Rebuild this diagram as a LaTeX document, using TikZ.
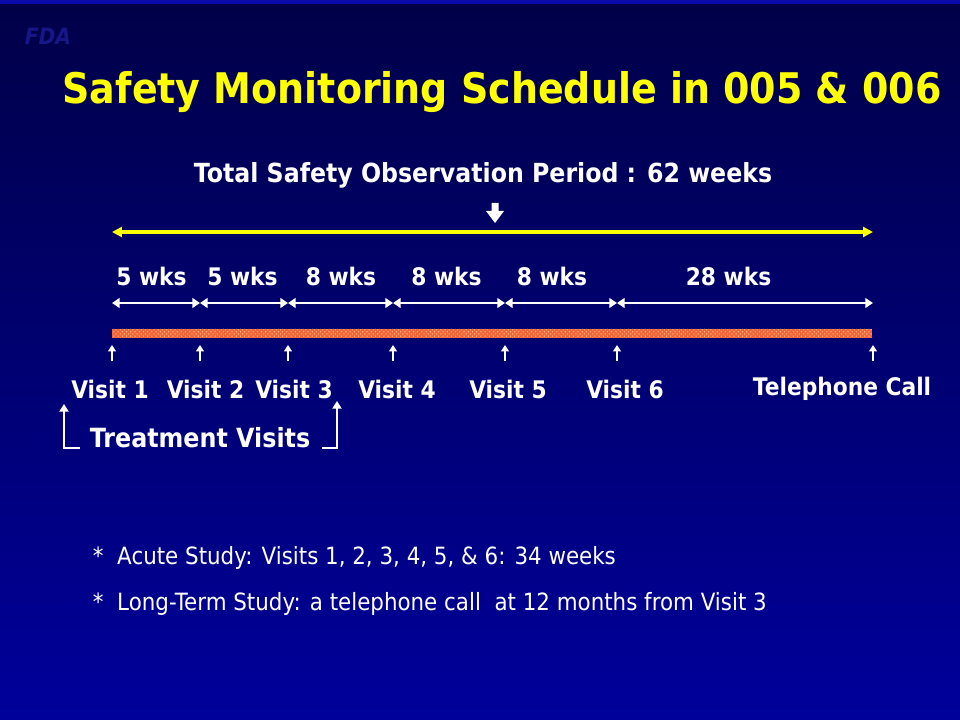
\documentclass[tikz,border=0pt]{standalone}
\usepackage{fontspec}
\setmainfont{DejaVu Sans}[FakeStretch=0.9]
\usetikzlibrary{arrows.meta,patterns}

\definecolor{slidetop}{RGB}{0,0,72}
\definecolor{slidebottom}{RGB}{0,0,155}
\definecolor{slideband}{RGB}{10,10,170}
\definecolor{logoblue}{RGB}{22,22,135}
\definecolor{titleyellow}{RGB}{255,255,0}
\definecolor{barorange}{RGB}{240,100,55}

\newcommand{\SpanY}{303}
\newcommand{\BarTop}{329}
\newcommand{\BarBot}{338}
\newcommand{\TickTop}{345}
\newcommand{\TickBot}{361}

\begin{document}
\begin{tikzpicture}[x=0.025cm,y=-0.025cm,
  bold/.style={text=white,font=\bfseries\fontsize{17.2}{19}\selectfont},
  plain/.style={text=white,font=\fontsize{16.9}{19}\selectfont,anchor=west},
  span/.style={white,line width=2pt,{Triangle[length=5.5pt,width=7pt]}-{Triangle[length=5.5pt,width=7pt]}},
  tick/.style={white,line width=1.6pt,-{Triangle[length=4.5pt,width=5.5pt]}},
  bracket/.style={white,line width=1.6pt,-{Triangle[length=5.5pt,width=6.5pt]}}]
\useasboundingbox (0,0) rectangle (960,720);
\shade[top color=slidetop,bottom color=slidebottom] (0,0) rectangle (960,720);% Background
\fill[slideband] (0,0) rectangle (960,4);
\node[text=logoblue,font=\bfseries\itshape\fontsize{16}{18}\selectfont] (logo) at (48,36) {FDA};

% Title
\node[text=titleyellow,font=\bfseries\fontsize{30}{34}\selectfont] (title) at (502,92) {Safety Monitoring Schedule in 005 \& 006};
\node[bold,font=\bfseries\fontsize{18.7}{21}\selectfont] (total) at (483,175) {Total Safety Observation Period : 62 weeks};

% Down arrow and whole period
\fill[white] (491.5,203) -- (498.5,203) -- (498.5,211) -- (504,211) -- (495,223) -- (486,211) -- (491.5,211) -- cycle;
\coordinate (P0) at (112,232);
\coordinate (P1) at (873,232);
\draw[titleyellow,line width=2.2pt,{Triangle[length=7pt,width=7pt]}-{Triangle[length=7pt,width=7pt]}] (P0) -- (P1);

% Time bar
\fill[barorange] (112,\BarTop) rectangle (872,\BarBot);
\fill[pattern=crosshatch dots,pattern color=orange!40!white] (112,\BarTop) rectangle (872,\BarBot);

\foreach \i/\x in {0/112,1/200,2/288,3/393,4/505,5/617,6/873}{
    \coordinate (s\i) at (\x,\SpanY);
    \coordinate (a\i) at (\x,\TickTop);
    \coordinate (b\i) at (\x,\TickBot);
    \draw[tick] (b\i) -- (a\i);
}
\foreach \i/\j in {0/1,1/2,2/3,3/4,4/5,5/6}{
    \draw[span] (s\i) -- (s\j);
}

% Interval labels
\foreach \n/\x/\t in {1/151.5/5 wks,2/242.5/5 wks,3/341/8 wks,4/446.5/8 wks,5/552/8 wks,6/728.5/28 wks}{
    \node[bold] (w\n) at (\x,276) {\t};
}

% Visit labels
\foreach \n/\x/\t in {1/110/Visit 1,2/205.5/Visit 2,3/294/Visit 3,4/397/Visit 4,5/508/Visit 5,6/625/Visit 6,7/842/Telephone Call}{
    \node[bold] (v\n) at (\x,389) {\t};
}

% Treatment visits bracket
\node[bold,font=\bfseries\fontsize{18.8}{21}\selectfont] (treat) at (200,438) {Treatment Visits};
\coordinate (L0) at (80,448);
\coordinate (L1) at (64,404);
\coordinate (R0) at (322,448);
\coordinate (R1) at (337,401);
\draw[bracket] (L0) -| (L1);
\draw[bracket] (R0) -| (R1);

% Notes
\node[plain] (note1) at (88,558) {*~~Acute Study: Visits 1, 2, 3, 4, 5, \& 6: 34 weeks};
\node[plain] (note2) at (88,604) {*~~Long-Term Study: a telephone call~~at 12 months from Visit 3};
\end{tikzpicture}
\end{document}
